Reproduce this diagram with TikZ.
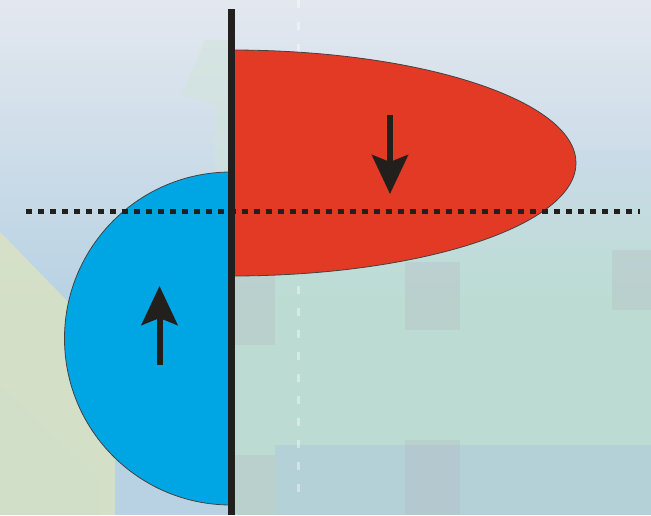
\documentclass[tikz,border=0pt]{standalone}
\usepackage{tikz}
\usetikzlibrary{arrows.meta}
\definecolor{lobered}{HTML}{E33A25}
\definecolor{lobeblue}{HTML}{00A6E3}
\definecolor{inkdark}{HTML}{231F1C}
\definecolor{bgtop}{HTML}{E3E8EF}
\definecolor{bgmid}{HTML}{B8D2E3}
\definecolor{bggreen}{HTML}{BCDCD3}
\definecolor{bgband}{HTML}{B2CDDA}
\definecolor{bggray}{HTML}{B6BCC2}
\definecolor{bgyellow}{HTML}{DCE3C2}
\definecolor{bgleaf}{HTML}{D0E5D8}

\begin{document}
\begin{tikzpicture}[
    x=1pt, y=-1pt,
    lobe/.style={draw=inkdark!85, line width=0.8pt},
    axisline/.style={inkdark, line width=7pt},
    levelline/.style={inkdark, line width=5.5pt, dash pattern=on 6.5pt off 5.5pt},
    flowarr/.style={inkdark, line width=6pt,
        -{Stealth[length=39pt, width=36pt, inset=7pt]}},
    blurbox/.style={opacity=0.35}
]
\useasboundingbox (0,0) rectangle (651,515);

% background
\shade[top color=bgtop, bottom color=bgmid] (0,0) rectangle (651,300);
\fill[bgmid] (0,300) rectangle (651,515);
\shade[top color=bgmid!60!bgtop, bottom color=bggreen] (235,150) rectangle (651,300);
\fill[bggreen] (235,299) rectangle (651,515);
\fill[bgyellow, opacity=0.8] (0,232) -- (115,350) -- (115,515) -- (0,515) -- cycle;
\fill[bgyellow!60!bggreen, opacity=0.5] (0,385) -- (100,480) -- (100,515) -- (0,515) -- cycle;
\fill[bgband, opacity=0.7] (275,445) rectangle (651,515);
\fill[bgleaf, opacity=0.5] (182,95) -- (205,40) -- (228,40) -- (228,170) -- (215,170) -- (215,105) -- cycle;
\foreach \xa/\ya/\xb/\yb in {235/270/275/345, 405/262/460/330, 612/250/651/310,
                             405/440/460/515, 235/455/275/515}
  \fill[bggray, blurbox] (\xa,\ya) rectangle (\xb,\yb);
\draw[white, opacity=0.4, line width=3pt, dash pattern=on 8pt off 14pt] (298,0) -- (298,505);

% lobes
\filldraw[lobe, fill=lobered] (231,50)
  arc[start angle=-90, end angle=90, x radius=345, y radius=113] -- cycle;
\filldraw[lobe, fill=lobeblue] (231,172)
  arc[start angle=-90, end angle=-270, radius=166.5] -- cycle;

% axes
\coordinate (axtop) at (231,9);
\coordinate (axbot) at (231,515);
\coordinate (lvlL) at (25.5,211.5);
\coordinate (lvlR) at (640,211.5);
\draw[levelline] (lvlL) -- (lvlR);
\draw[axisline] (axtop) -- (axbot);

% arrows
\coordinate (redtail) at (390,115);
\coordinate (redtip) at (390,194);
\coordinate (bluetail) at (159.5,365);
\coordinate (bluetip) at (159.5,286);
\draw[flowarr] (redtail) -- (redtip);
\draw[flowarr] (bluetail) -- (bluetip);
\end{tikzpicture}
\end{document}
